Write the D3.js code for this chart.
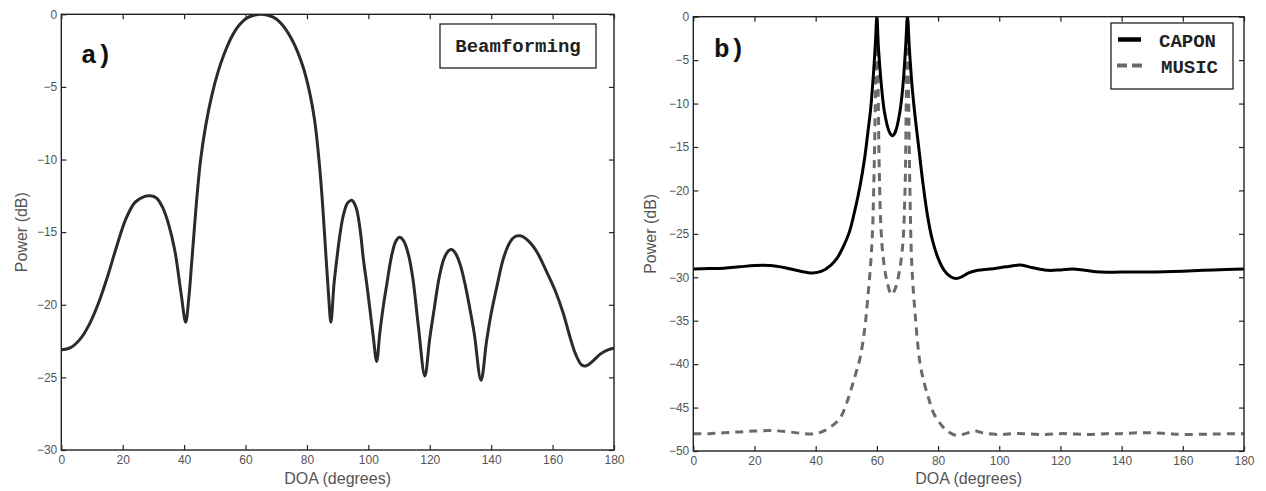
<!DOCTYPE html>
<html><head><meta charset="utf-8">
<script src="https://cdn.jsdelivr.net/npm/d3@7"></script>
<style>body{margin:0;background:#fff} svg{display:block}</style>
</head><body><svg id="c" width="1266" height="491"></svg>
<script>
// ---- data ----
const doaTicks = [0,20,40,60,80,100,120,140,160,180];
const powerTicksA = [0,-5,-10,-15,-20,-25,-30];
const powerTicksB = [0,-5,-10,-15,-20,-25,-30,-35,-40,-45,-50];

const bfDeg   = [0,3,6,9,12,15,18,21,24,27,29,31,33,35,37,39,40.5,41.5,42.5,43.5,44.5,45.5,47,49,51,53,55,57,59,61,63,65,67,69,71,73,75,77,79,81,82.5,84,85,86,87,87.8,88.8,89.7,90.8,91.9,93.2,94.6,96,97.3,98.4,99.5,100.5,101.6,102.7,103.7,104.8,106,107.6,109,110.2,111.5,113,114.5,116.3,118.4,120,121.5,123,124.5,126,127.1,128.5,130,131.5,133,134.5,136.7,138.5,140,141.8,144,146.1,147.8,149.4,151,153,155,158,161,163.5,165.5,167.5,169.5,171,173,175.5,178,180];
const bfPower = [-23.1,-22.95,-22.4,-21.4,-19.95,-18.1,-16.0,-14.1,-12.95,-12.55,-12.5,-12.65,-13.3,-14.5,-16.3,-19.2,-21.2,-19.6,-17.0,-14.3,-11.8,-9.8,-7.7,-5.6,-4.0,-2.75,-1.75,-1.0,-0.5,-0.2,-0.05,0,-0.05,-0.2,-0.5,-1.0,-1.7,-2.6,-3.8,-5.5,-7.3,-10.2,-12.8,-16.0,-19.2,-21.2,-18.6,-16.9,-15.1,-13.8,-13.0,-12.8,-13.3,-14.8,-16.9,-18.6,-20.3,-22.2,-23.9,-22.0,-20.2,-18.6,-16.6,-15.6,-15.35,-15.6,-16.5,-18.2,-21.5,-24.9,-22.3,-20.2,-18.2,-16.9,-16.3,-16.2,-16.5,-17.3,-18.6,-20.2,-22.0,-25.2,-22.5,-20.6,-18.8,-16.8,-15.7,-15.3,-15.25,-15.4,-15.8,-16.4,-17.7,-19.1,-20.6,-22.1,-23.4,-24.15,-24.2,-23.9,-23.4,-23.1,-23.0];

const caponDeg   = [0,5,10,15,20,25,30,35,39,42,45,47,49,51,53,54.5,56,57,58,59,59.6,60,60.5,61.5,62.5,64,65,66,67.5,68.5,69.4,70,70.6,71.5,72.5,73.5,75,76.5,78,80,82,84,86,88,90,93,97,102,107,111,116,120,124,128,133,140,149,160,170,180];
const caponPower = [-29.05,-29.0,-28.95,-28.8,-28.65,-28.65,-28.9,-29.3,-29.5,-29.3,-28.6,-27.8,-26.5,-24.8,-22.0,-19.5,-16.3,-13.5,-10.5,-6,-2.5,0,-3.5,-8,-11,-13.2,-13.7,-13.3,-11,-8,-3.5,0,-3.5,-8,-11.5,-14.5,-19,-22.8,-25.5,-27.8,-29.2,-29.9,-30.15,-29.9,-29.5,-29.2,-29.05,-28.8,-28.6,-28.9,-29.2,-29.15,-29.05,-29.2,-29.4,-29.4,-29.4,-29.3,-29.15,-29.05];

const musicDeg   = [0,5,10,15,20,25,30,35,39,42,45,48,50,51.5,53,54.5,56,57,58,58.6,59.2,59.6,60,60.4,60.8,61.3,62,63.2,64.8,66,67,68.4,69.2,69.6,70,70.4,70.8,71.4,72.5,74.1,75.5,76.8,78.5,80.6,83,86,89,92,95,100,105,110,115,120,125,130,135,140,145,150,155,160,170,180];
const musicPower = [-48.0,-48.0,-47.9,-47.8,-47.7,-47.65,-47.75,-47.95,-48.05,-47.8,-47.2,-46.2,-44.6,-43,-41.2,-39.3,-36,-32.5,-28.3,-24.5,-16,-8,0,-8,-18,-24,-27.5,-30.3,-32.0,-31.3,-30.0,-26.5,-20,-10,0,-10,-20,-28.4,-34.2,-39.9,-42.2,-43.8,-45.6,-46.8,-47.7,-48.2,-48.0,-47.7,-47.95,-48.1,-48.0,-48.05,-48.1,-48.0,-48.05,-48.1,-48.0,-48.0,-47.9,-47.9,-48.0,-48.1,-48.05,-48.0];

// ---- drawing ----
const svg = d3.select("#c");
const FRAME = "#222";
const TXT = "#555";
const sans = "'Liberation Sans', Arial, Helvetica, sans-serif";
const mono = "'Liberation Mono', 'Courier New', monospace";

function panel(cfg){
  const x = d3.scaleLinear().domain([0,180]).range([cfg.x0,cfg.x1]);
  const y = d3.scaleLinear().domain([cfg.yMin,0]).range([cfg.y1,cfg.y0]);
  const g = svg.append("g");
  const clipId = "clip"+cfg.id;
  g.append("clipPath").attr("id",clipId).append("rect")
    .attr("x",cfg.x0).attr("y",cfg.y0).attr("width",cfg.x1-cfg.x0).attr("height",cfg.y1-cfg.y0);

  const styleAxis = (sel)=>{
    sel.select(".domain").remove();
    sel.selectAll(".tick line").attr("stroke",FRAME).attr("stroke-width",1.2);
    sel.selectAll(".tick text").attr("fill",TXT).attr("font-family",sans).attr("font-size",12);
  };
  g.append("g").attr("transform",`translate(0,${cfg.y1})`)
    .call(d3.axisBottom(x).tickValues(doaTicks).tickSizeInner(-5).tickSizeOuter(0).tickPadding(5)).call(styleAxis);
  g.append("g").attr("transform",`translate(0,${cfg.y0})`)
    .call(d3.axisTop(x).tickValues(doaTicks).tickSizeInner(-5).tickSizeOuter(0).tickFormat("")).call(styleAxis);
  g.append("g").attr("transform",`translate(${cfg.x0},0)`)
    .call(d3.axisLeft(y).tickValues(cfg.yTicks).tickSizeInner(-5).tickSizeOuter(0).tickPadding(4)).call(styleAxis);
  g.append("g").attr("transform",`translate(${cfg.x1},0)`)
    .call(d3.axisRight(y).tickValues(cfg.yTicks).tickSizeInner(-5).tickSizeOuter(0).tickFormat("")).call(styleAxis);

  const plot = g.append("g").attr("clip-path",`url(#${clipId})`);
  cfg.series.forEach(s=>{
    const pts = s.deg.map((d,i)=>[d,s.val[i]]);
    const line = d3.line().x(d=>x(d[0])).y(d=>y(d[1])).curve(d3.curveCatmullRom.alpha(0.5));
    plot.append("path").attr("d",line(pts)).attr("fill","none")
      .attr("stroke",s.color).attr("stroke-width",s.width)
      .attr("stroke-dasharray",s.dash||null).attr("stroke-linejoin","round");
  });

  g.append("rect").attr("x",cfg.x0).attr("y",cfg.y0).attr("width",cfg.x1-cfg.x0).attr("height",cfg.y1-cfg.y0)
    .attr("fill","none").attr("stroke",FRAME).attr("stroke-width",1.4);

  g.append("text").attr("x",(cfg.x0+cfg.x1)/2).attr("y",cfg.xLabY).attr("text-anchor","middle")
    .attr("font-family",sans).attr("font-size",16).attr("fill",TXT).text("DOA (degrees)");
  g.append("text").attr("transform",`translate(${cfg.yLabX},${(cfg.y0+cfg.y1)/2}) rotate(-90)`).attr("text-anchor","middle")
    .attr("font-family",sans).attr("font-size",16).attr("fill",TXT).text("Power (dB)");
  g.append("text").attr("x",cfg.tagX).attr("y",cfg.tagY).attr("font-family",mono).attr("font-weight","bold")
    .attr("font-size",26).attr("fill","#111").text(cfg.tag);
  return {g,x,y};
}

const A = panel({id:"a",x0:61.3,x1:614,y0:14.3,y1:450,yMin:-30,yTicks:powerTicksA,
  xLabY:484,yLabX:27,tag:"a)",tagX:81,tagY:63,
  series:[{deg:bfDeg,val:bfPower,color:"#2b2b2b",width:3}]});

const B = panel({id:"b",x0:693.3,x1:1244,y0:16.7,y1:451,yMin:-50,yTicks:powerTicksB,
  xLabY:484,yLabX:656,tag:"b)",tagX:714,tagY:57,
  series:[{deg:musicDeg,val:musicPower,color:"#6a6a6a",width:3,dash:"8,6"},
          {deg:caponDeg,val:caponPower,color:"#000",width:3}]});

// legend a
A.g.append("rect").attr("x",440).attr("y",24).attr("width",156).attr("height",44)
  .attr("fill","#fff").attr("stroke",FRAME).attr("stroke-width",1.3);
A.g.append("text").attr("x",518).attr("y",52).attr("text-anchor","middle").attr("font-family",mono)
  .attr("font-weight","bold").attr("font-size",19).attr("fill","#222").text("Beamforming");

// legend b
B.g.append("rect").attr("x",1111).attr("y",23).attr("width",122).attr("height",66)
  .attr("fill","#fff").attr("stroke",FRAME).attr("stroke-width",1.3);
B.g.append("line").attr("x1",1118).attr("x2",1141).attr("y1",39.5).attr("y2",39.5)
  .attr("stroke","#000").attr("stroke-width",4.5);
B.g.append("line").attr("x1",1117).attr("x2",1142).attr("y1",65.5).attr("y2",65.5)
  .attr("stroke","#6a6a6a").attr("stroke-width",4).attr("stroke-dasharray","10,5");
B.g.append("text").attr("x",1159).attr("y",47).attr("font-family",mono).attr("font-weight","bold")
  .attr("font-size",19).attr("fill","#222").text("CAPON");
B.g.append("text").attr("x",1161).attr("y",73).attr("font-family",mono).attr("font-weight","bold")
  .attr("font-size",19).attr("fill","#222").text("MUSIC");
</script></body></html>
